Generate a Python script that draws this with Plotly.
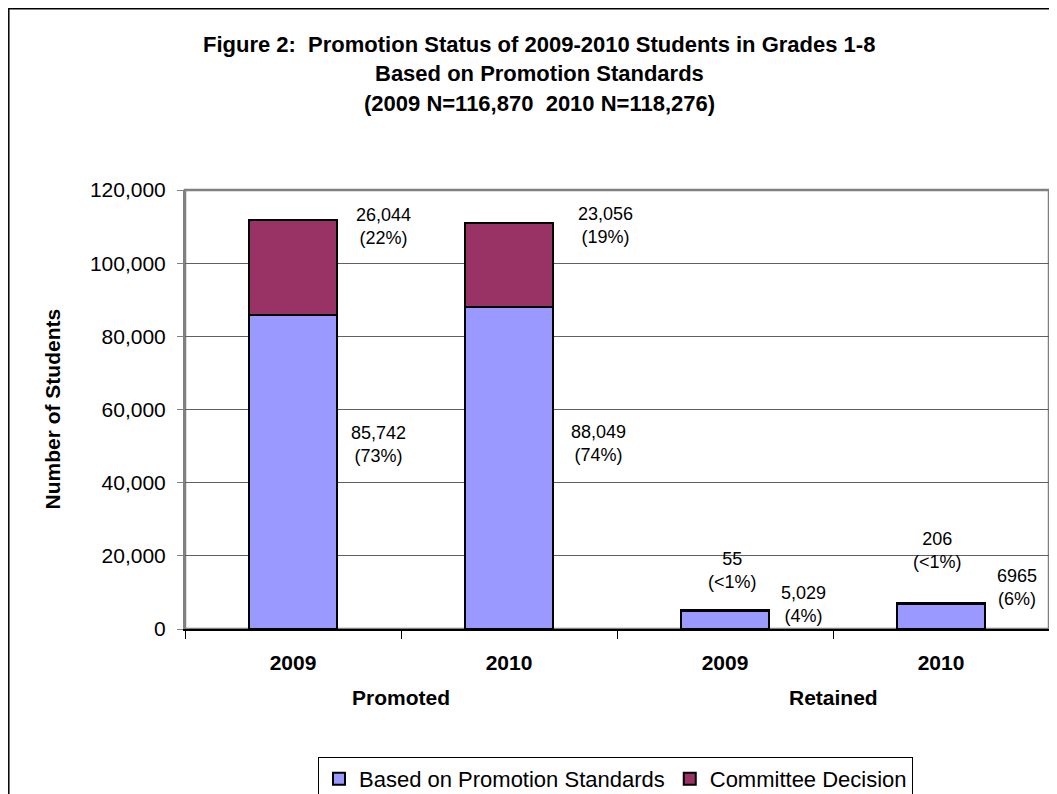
import plotly.graph_objects as go

# ---- data ----
groups = ["Promoted", "Promoted", "Retained", "Retained"]
years = ["2009", "2010", "2009", "2010"]
standards = [85742, 88049, 5029, 6965]
committee = [26044, 23056, 55, 206]
standards_labels = ["85,742<br>(73%)", "88,049<br>(74%)", "5,029<br>(4%)", "6965<br>(6%)"]
committee_labels = ["26,044<br>(22%)", "23,056<br>(19%)", "55<br>(&lt;1%)", "206<br>(&lt;1%)"]
series_names = ["Based on Promotion Standards", "Committee Decision"]
y_ticks = [0, 20000, 40000, 60000, 80000, 100000, 120000]
title_lines = ["Figure 2:  Promotion Status of 2009-2010 Students in Grades 1-8",
               "Based on Promotion Standards",
               "(2009 N=116,870  2010 N=118,276)"]

cats = [f"{g} {y}" for g, y in zip(groups, years)]

FONT = "Liberation Sans, Arial, sans-serif"
C_STD = "#9999FF"
C_COM = "#993366"

# page offset (body margin) and figure size
OFF = 8
W, H = 1057 - OFF, 794 - OFF
# plot-area geometry in reference pixels
L, T, R, B = 185, 190, 1049, 629
PW, PH = R - L, B - T


def px_x(x):
    return (x - L) / PW


def px_y(y):
    return (B - y) / PH


fig = go.Figure()
fig.add_trace(go.Bar(x=cats, y=standards, name=series_names[0],
                     marker=dict(color=C_STD, line=dict(color="black", width=2)), width=0.41))
fig.add_trace(go.Bar(x=cats, y=committee, name=series_names[1],
                     marker=dict(color=C_COM, line=dict(color="black", width=2)), width=0.41))

# label offsets (pixels) relative to category centre / segment top
com_dx = [90, 96, 7, -4]
com_dy = [-6, -3, 40, 52]
std_dx = [85, 89, 78, 76]
std_dy = [-129, -137, 6, 16]

LBL = dict(size=18, color="black", family=FONT)
ann = []
for i in range(4):
    ann.append(dict(x=i, y=standards[i] + committee[i], xref="x", yref="y", text=committee_labels[i],
                    showarrow=False, xshift=com_dx[i], yshift=com_dy[i], yanchor="middle", font=LBL))
    ann.append(dict(x=i, y=standards[i], xref="x", yref="y", text=standards_labels[i],
                    showarrow=False, xshift=std_dx[i], yshift=std_dy[i], yanchor="middle", font=LBL))

# group labels
for gname in ["Promoted", "Retained"]:
    idx = [i for i, g in enumerate(groups) if g == gname]
    ann.append(dict(x=sum(idx) / len(idx), y=px_y(697), xref="x", yref="paper", text=f"<b>{gname}</b>",
                    showarrow=False, yanchor="middle", font=dict(size=21, color="black", family=FONT)))

# y-axis title
ann.append(dict(x=px_x(52), y=0.5, xref="paper", yref="paper", text="<b>Number of Students</b>", textangle=-90,
                showarrow=False, xanchor="center", yanchor="middle", font=dict(size=21, color="black", family=FONT)))

# title lines
for k, t in enumerate(title_lines):
    ann.append(dict(x=px_x(539), y=px_y(44 + 29.5 * k), xref="paper", yref="paper", text=f"<b>{t}</b>",
                    showarrow=False, xanchor="center", yanchor="middle", font=dict(size=22, color="black", family=FONT)))

shapes = [
    # outer chart border
    dict(type="rect", xref="paper", yref="paper", x0=px_x(OFF + 0.8), x1=px_x(1200), y0=px_y(900), y1=px_y(OFF + 0.8),
         line=dict(color="black", width=1.5), fillcolor="rgba(0,0,0,0)", layer="below"),
    # plot area border
    dict(type="rect", xref="paper", yref="paper", x0=0, x1=1, y0=0, y1=1,
         line=dict(color="#808080", width=2.5), fillcolor="rgba(0,0,0,0)", layer="below"),
]

fig.update_layout(
    width=W, height=H,
    margin=dict(l=L - OFF, r=W - (R - OFF), t=T - OFF, b=H - (B - OFF), autoexpand=False),
    barmode="stack",
    paper_bgcolor="white", plot_bgcolor="white",
    font=dict(family=FONT, color="black"),
    showlegend=True,
    legend=dict(orientation="h", x=px_x(318), y=px_y(757), xanchor="left", yanchor="top",
                bordercolor="black", borderwidth=1, bgcolor="white", font=dict(size=22, family=FONT),
                traceorder="normal", itemwidth=30, tracegroupgap=0),
    annotations=ann,
    shapes=shapes,
)
fig.update_xaxes(type="category", tickvals=cats, ticktext=[f"<b>{y}</b>" for y in years],
                 tickfont=dict(size=21, family=FONT, color="black"),
                 ticks="outside", tickson="boundaries", ticklen=8, tickcolor="black",
                 showline=True, linecolor="black", linewidth=1.5, ticklabelstandoff=14,
                 showgrid=False, zeroline=False, fixedrange=True)
fig.update_yaxes(range=[0, 120000], tickvals=y_ticks, tickformat=",",
                 tickfont=dict(size=21, family=FONT, color="black"),
                 ticks="outside", ticklen=6, tickcolor="#808080", showline=True, linecolor="#808080", linewidth=2,
                 showgrid=True, gridcolor="#606060", gridwidth=1, zeroline=False, ticklabelstandoff=7)

fig.write_html("out.html")
